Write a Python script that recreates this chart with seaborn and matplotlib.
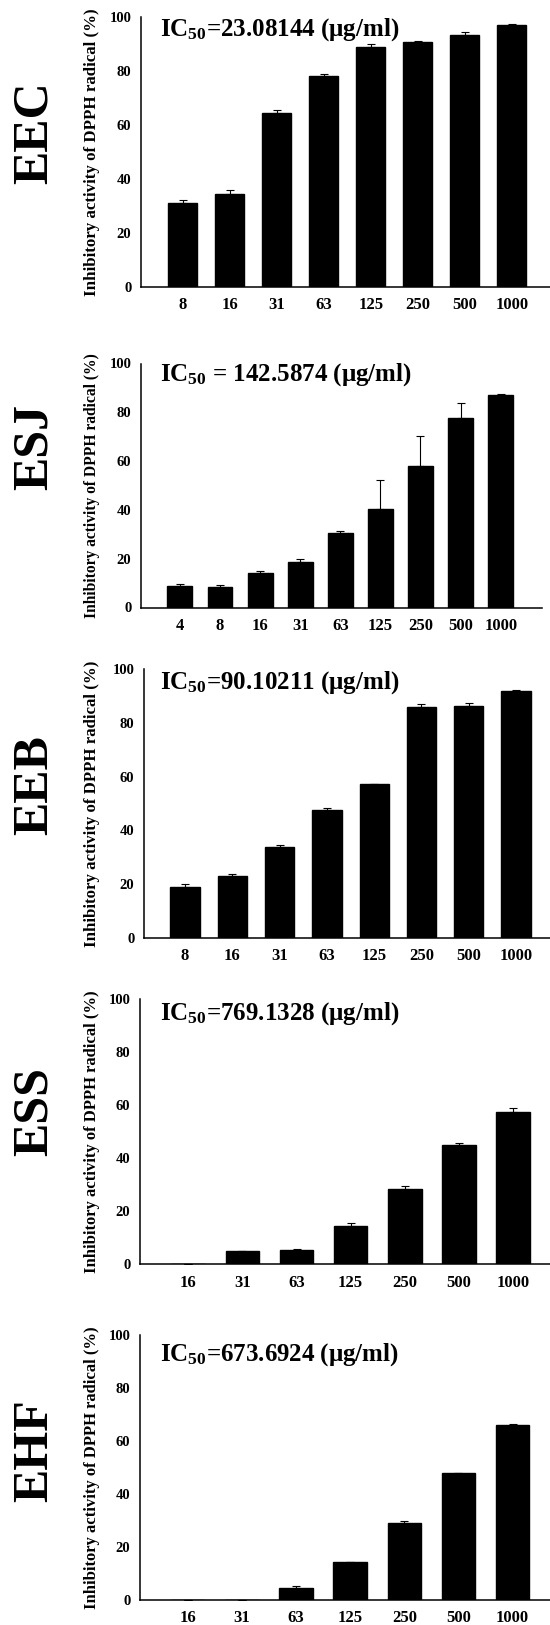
import numpy as np
import pandas as pd
import matplotlib.pyplot as plt
import seaborn as sns

# DPPH radical inhibition (%) by concentration (ug/ml), mean and upper error
eec_conc = ["8", "16", "31", "63", "125", "250", "500", "1000"]
eec_mean = [31.0, 34.5, 64.5, 78.0, 88.8, 90.8, 93.2, 97.0]
eec_err = [1.1, 1.5, 1.1, 0.7, 1.0, 0.3, 1.0, 0.3]

esj_conc = ["4", "8", "16", "31", "63", "125", "250", "500", "1000"]
esj_mean = [9.0, 8.6, 14.3, 18.6, 30.5, 40.5, 57.8, 77.7, 87.1]
esj_err = [0.8, 0.5, 0.7, 1.4, 0.9, 11.7, 12.5, 6.0, 0.2]

eeb_conc = ["8", "16", "31", "63", "125", "250", "500", "1000"]
eeb_mean = [18.9, 23.1, 33.8, 47.7, 57.1, 86.0, 86.5, 91.9]
eeb_err = [1.0, 0.8, 0.7, 0.5, 0.2, 1.0, 1.0, 0.3]

ess_conc = ["16", "31", "63", "125", "250", "500", "1000"]
ess_mean = [0.0, 4.9, 5.5, 14.4, 28.3, 45.0, 57.5]
ess_err = [0.0, 0.3, 0.4, 1.2, 1.2, 0.6, 1.5]

ehf_conc = ["16", "31", "63", "125", "250", "500", "1000"]
ehf_mean = [0.0, 0.0, 4.6, 14.2, 29.1, 47.8, 66.1]
ehf_err = [0.0, 0.0, 0.8, 0.1, 0.6, 0.1, 0.5]

names = ["EEC", "ESJ", "EEB", "ESS", "EHF"]
ic50_texts = [
    "IC$_{50}$=23.08144 (μg/ml)",
    "IC$_{50}$ = 142.5874 (μg/ml)",
    "IC$_{50}$=90.10211 (μg/ml)",
    "IC$_{50}$=769.1328 (μg/ml)",
    "IC$_{50}$=673.6924 (μg/ml)",
]
ylabel = "Inhibitory activity of DPPH radical (%)"

panels = [
    (eec_conc, eec_mean, eec_err),
    (esj_conc, esj_mean, esj_err),
    (eeb_conc, eeb_mean, eeb_err),
    (ess_conc, ess_mean, ess_err),
    (ehf_conc, ehf_mean, ehf_err),
]

# layout in pixels: (left, top, right, bottom), xlim, name centre y, text y, label size
layout = [
    ((141, 16.7, 550, 287), (-0.89, 7.81), 133, 0.932, 12.2),
    ((141, 363.5, 542, 607.5), (-0.97, 9.03), 447, 0.931, 11.2),
    ((144, 669.3, 550, 937.7), (-0.87, 7.72), 785, 0.929, 12.1),
    ((140, 999.3, 550, 1264.3), (-0.89, 6.68), 1112, 0.925, 12.0),
    ((140, 1335, 550, 1600), (-0.88, 6.69), 1451, 0.903, 12.0),
]

W, H = 550, 1625

sns.set_style("white", {"axes.edgecolor": "black", "text.color": "black",
                        "xtick.color": "black", "ytick.color": "black",
                        "axes.labelcolor": "black"})
plt.rcParams["font.family"] = ["Liberation Serif", "DejaVu Serif"]
plt.rcParams["font.weight"] = "bold"
plt.rcParams["mathtext.fontset"] = "custom"
plt.rcParams["mathtext.rm"] = "Liberation Serif:bold"
plt.rcParams["mathtext.it"] = "Liberation Serif:bold"
plt.rcParams["mathtext.bf"] = "Liberation Serif:bold"
plt.rcParams["mathtext.default"] = "rm"

fig = plt.figure(figsize=(W / 100, H / 100), dpi=100)

for (conc, mean, err), name, txt, (box, xlim, name_y, text_y, lab_size) in zip(
        panels, names, ic50_texts, layout):
    left, top, right, bottom = box
    ax = fig.add_axes([left / W, 1 - bottom / H, (right - left) / W, (bottom - top) / H])

    df = pd.DataFrame({"conc": conc, "mean": mean})
    sns.barplot(data=df, x="conc", y="mean", order=conc, color="black",
                edgecolor="black", saturation=1, width=0.62, errorbar=None, ax=ax)
    pos = np.arange(len(conc))
    ax.errorbar(pos, mean, yerr=[np.zeros(len(err)), err], fmt="none",
                ecolor="black", elinewidth=0.8, capsize=2.9, capthick=0.8)

    ax.set_xlim(*xlim)
    ax.set_ylim(0, 100)
    ax.set_yticks(range(0, 101, 20))
    sns.despine(ax=ax)
    for s in ["left", "bottom"]:
        ax.spines[s].set_linewidth(1.1)
    ax.tick_params(direction="in", length=3, width=1)
    ax.tick_params(axis="x", labelsize=12, pad=7.5)
    ax.tick_params(axis="y", labelsize=10.5, pad=7)
    for lbl in ax.get_xticklabels() + ax.get_yticklabels():
        lbl.set_fontweight("bold")

    ax.set_xlabel("")
    ax.set_ylabel(ylabel, fontsize=lab_size, fontweight="bold")
    ax.yaxis.set_label_coords((92 - left) / (right - left), 0.5)
    ax.yaxis.label.set_verticalalignment("center")

    ax.text((160 - left) / (right - left), text_y, txt, transform=ax.transAxes,
            ha="left", va="baseline", fontsize=18, fontweight="bold")

    fig.text(35 / W, 1 - name_y / H, name, rotation=90, ha="center", va="center",
             fontsize=36, fontweight="bold")

fig.savefig("out.png", dpi=100)
